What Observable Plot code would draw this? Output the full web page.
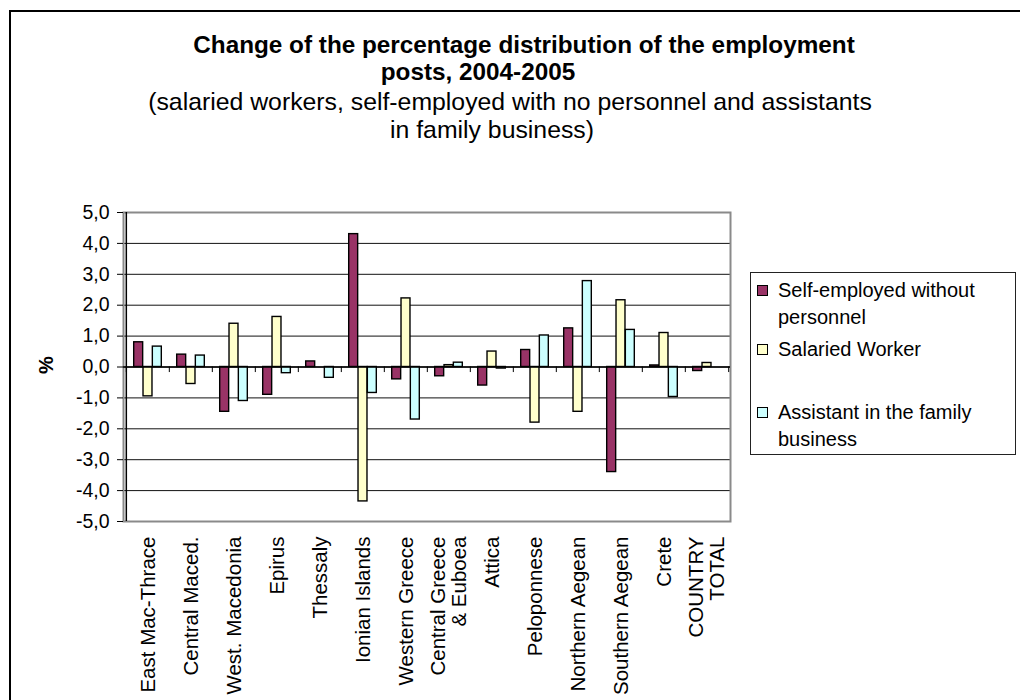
<!DOCTYPE html>
<html>
<head>
<meta charset="utf-8">
<script src="https://cdn.jsdelivr.net/npm/d3@7"></script>
<script src="https://cdn.jsdelivr.net/npm/@observablehq/plot@0.6"></script>
<style>
  html, body { margin: 0; padding: 0; background: #fff; }
  #wrap { position: relative; width: 1020px; height: 700px; overflow: hidden; font-family: "Liberation Sans", Arial, sans-serif; color: #000; }
  .abs { position: absolute; white-space: nowrap; line-height: 1; }
  .c { transform: translate(-50%, -50%); }
  #border { position: absolute; left: 9px; top: 10px; width: 1200px; height: 900px; border-left: 2px solid #000; border-top: 2px solid #000; }
  #chart { position: absolute; left: 0; top: 0; }
  #legend { position: absolute; left: 750px; top: 272px; width: 266px; height: 183px; border: 1px solid #222; box-sizing: border-box; }
  .sw { position: absolute; width: 9px; height: 9px; border: 1px solid #000; }
  .lt { position: absolute; font-size: 20px; line-height: 1; white-space: nowrap; transform: translateY(-50%); }
</style>
</head>
<body>
<div id="wrap">
  <div id="border"></div>
  <div id="chart"></div>
  <div id="t1" class="abs c" style="font-weight:bold;font-size:24.3px;"></div>
  <div id="t2" class="abs c" style="font-weight:bold;font-size:24.3px;"></div>
  <div id="s1" class="abs c" style="font-size:24.8px;"></div>
  <div id="s2" class="abs c" style="font-size:24.8px;"></div>
  <div id="ylab" class="abs" style="font-weight:bold;font-size:20px;left:46px;top:365px;transform:translate(-50%,-50%) rotate(-90deg);">%</div>
  <div id="legend"></div>
</div>
<script>
// ---- data ----
const titleLines = ["Change of the percentage distribution of the employment", "posts, 2004-2005"];
const subtitleLines = ["(salaried workers, self-employed with no personnel and assistants", "in family business)"];
const regions = ["East Mac-Thrace", "Central Maced.", "West. Macedonia", "Epirus", "Thessaly", "Ionian Islands", "Western Greece", "Central Greece\n& Euboea", "Attica", "Peloponnese", "Northern Aegean", "Southern Aegean", "Crete", "COUNTRY\nTOTAL"];
const seriesNames = ["Self-employed without personnel", "Salaried Worker", "Assistant in the family business"];
const legendLines = [["Self-employed without", "personnel"], ["Salaried Worker"], ["Assistant in the family", "business"]];
const selfEmployed = [0.8, 0.4, -1.45, -0.9, 0.18, 4.3, -0.4, -0.3, -0.6, 0.55, 1.25, -3.4, 0.05, -0.13];
const salaried = [-0.95, -0.55, 1.4, 1.62, 0.0, -4.35, 2.22, 0.06, 0.5, -1.8, -1.45, 2.16, 1.1, 0.13];
const assistant = [0.66, 0.37, -1.1, -0.2, -0.35, -0.84, -1.7, 0.14, -0.05, 1.02, 2.78, 1.2, -0.97, 0.0];
const colors = ["#993366", "#FFFFCC", "#CCFFFF"];
const yTicks = [5, 4, 3, 2, 1, 0, -1, -2, -3, -4, -5];

// ---- text ----
const tpos = [[524, 45], [478, 72], [510, 102], [492, 130]];
["t1", "t2", "s1", "s2"].forEach((id, k) => {
  const el = document.getElementById(id);
  el.textContent = [...titleLines, ...subtitleLines][k];
  el.style.left = tpos[k][0] + "px";
  el.style.top = tpos[k][1] + "px";
});

// ---- legend ----
const leg = document.getElementById("legend");
const rowTops = [17, 76, 139];
legendLines.forEach((lines, s) => {
  const sw = document.createElement("div");
  sw.className = "sw";
  sw.style.background = colors[s];
  sw.style.left = "6px";
  sw.style.top = (rowTops[s] - 5) + "px";
  leg.appendChild(sw);
  lines.forEach((ln, j) => {
    const t = document.createElement("div");
    t.className = "lt";
    t.textContent = ln;
    t.style.left = "27px";
    t.style.top = (rowTops[s] + j * 26.5) + "px";
    leg.appendChild(t);
  });
});

// ---- chart ----
const W = 740, H = 700, ml = 123, mr = 10, mt = 212, mb = 179;
const bw = (W - ml - mr) / regions.length;
const barW = bw * 0.215;
const pad = (bw - 3 * barW) / 2;
const fmt = d => d.toFixed(1).replace(".", ",");
const allSeries = [selfEmployed, salaried, assistant];

const barMarks = allSeries.map((vals, s) =>
  Plot.barY(regions.map((r, i) => ({region: r, value: vals[i]})), {
    x: "region", y: "value",
    fill: colors[s], stroke: "#000", strokeWidth: 1.4,
    insetLeft: pad + s * barW, insetRight: pad + (2 - s) * barW
  })
);

const chart = Plot.plot({
  width: W, height: H,
  marginLeft: ml, marginRight: mr, marginTop: mt, marginBottom: mb,
  style: {fontFamily: "'Liberation Sans', Arial, sans-serif", fontSize: "19.5px", color: "#000", background: "transparent", overflow: "visible"},
  x: {domain: regions, type: "band", padding: 0},
  y: {domain: [-5, 5]},
  marks: [
    Plot.ruleY(yTicks, {stroke: "#111", strokeWidth: 1}),
    Plot.frame({stroke: "#8a8a8a", strokeWidth: 2}),
    Plot.ruleX([regions[0]], {dx: -bw / 2, stroke: "#000", strokeWidth: 1.5}),
    ...barMarks,
    Plot.ruleY([0], {stroke: "#000", strokeWidth: 1.3}),
    Plot.ruleX(regions, {y1: 0, y2: -0.18, dx: -bw / 2, stroke: "#000"}),
    Plot.ruleX([regions[regions.length - 1]], {y1: 0, y2: -0.18, dx: bw / 2, stroke: "#000"}),
    Plot.axisY(yTicks, {tickFormat: fmt, tickSize: 6, tickPadding: 8, fontSize: 19.5, label: null, stroke: "#000"}),
    Plot.axisX({tickRotate: -90, tickSize: 0, tickPadding: 15, fontSize: 20.5, label: null})
  ]
});
document.getElementById("chart").appendChild(chart);
</script>
</body>
</html>
